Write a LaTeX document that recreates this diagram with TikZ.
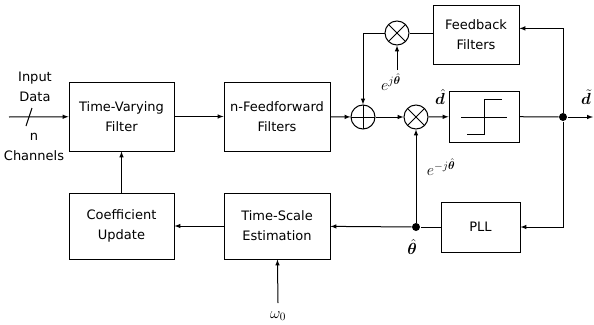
\RequirePackage{fix-cm}
\documentclass[tikz,border=0pt]{standalone}
\usepackage{amsmath}
\usepackage{bm}
\usepackage{fontspec}
\setmainfont{DejaVu Sans}
\usepackage{tikz}

\tikzset{
  bloc/.style={draw, line width=1pt, align=center, inner sep=0pt},
  rond/.style={circle, draw, line width=1pt, minimum size=24pt, inner sep=0pt},
  somme/.style={rond, path picture={
      \draw[line width=1pt] (path picture bounding box.north) -- (path picture bounding box.south);
      \draw[line width=1pt] (path picture bounding box.west) -- (path picture bounding box.east);}},
  produit/.style={rond, path picture={
      \draw[line width=1pt] (path picture bounding box.north west) -- (path picture bounding box.south east);
      \draw[line width=1pt] (path picture bounding box.north east) -- (path picture bounding box.south west);}},
  point/.style={circle, fill, minimum size=8pt, inner sep=0pt},
  texte/.style={inner sep=0pt, align=center},
  maths/.style={inner sep=0pt, font=\fontsize{16}{18}\selectfont}
}

\begin{document}
\begin{tikzpicture}[x=1pt, y=-1pt, >=latex, line width=1pt,
    font=\fontsize{13}{20}\selectfont]
      \useasboundingbox (0,0) rectangle (594,324);

      %Entrée
      \coordinate (Entree) at (9,117);
      \node[texte] (InputData) at (35,87) {Input\\Data};
      \node[texte] (Canaux) at (34,147) {n\\Channels};

      %Blocs du haut
      \node[bloc, minimum width=105pt, minimum height=69pt] (TVF) at (121.5,116.5) {Time-Varying\\Filter};
      \node[bloc, minimum width=106pt, minimum height=69pt] (FF) at (277,116.5) {n-Feedforward\\Filters};
      \node[bloc, minimum width=86pt, minimum height=59pt] (FB) at (476,34.5) {Feedback\\Filters};
      \node[bloc, minimum width=70pt, minimum height=51pt] (Decision) at (484,116.5) {};

      %Sommateur et multiplieurs
      \node[somme] (Somme) at (363,117) {};
      \node[produit] (Mult1) at (397,33) {};
      \node[produit] (Mult2) at (416,117) {};

      %Points
      \node[point] (Sortie) at (563,117) {};
      \node[point] (Theta) at (416,227) {};
      \coordinate (Fin) at (593,117);
      \coordinate (EjTheta) at (397,70);
      \coordinate (Omega) at (278,303);

      %Blocs du bas
      \node[bloc, minimum width=105pt, minimum height=66pt] (CU) at (121.5,226) {Coefficient\\Update};
      \node[bloc, minimum width=106pt, minimum height=66pt] (TSE) at (277,226) {Time-Scale\\Estimation};
      \node[bloc, minimum width=79pt, minimum height=50pt] (PLL) at (480.5,227) {PLL};

      %Étiquettes
      \node[maths] (LabDhat) at (440,97) {$\bm{\hat{d}}$};
      \node[maths] (LabDtilde) at (586,97) {$\bm{\tilde{d}}$};
      \node[maths] (LabEj) at (391,82) {$e^{j\bm{\hat{\theta}}}$};
      \node[maths] (LabEmj) at (441,167) {$e^{-j\bm{\hat{\theta}}}$};
      \node[maths] (LabTheta) at (412,247) {$\bm{\hat{\theta}}$};
      \node[maths] (LabOmega) at (278,316) {$\omega_0$};

      %Symbole de décision
      \draw (461,117) -- (507,117);
      \draw (467,134) -- (484,134) -- (484,99) -- (502,99);

      %Flèches
      \draw[->] (Entree) -- (TVF);
      \draw (26,126) -- (32,108);
      \draw[->] (TVF) -- (FF);
      \draw[->] (FF) -- (Somme);
      \draw[->] (Somme) -- (Mult2);
      \draw[->] (Mult2) -- (Decision);
      \draw (Decision) -- (Sortie);
      \draw[->] (Sortie) -- (Fin);

      \draw[->] (Sortie) |- (FB.8);
      \draw (FB.west |- Mult1) -- (Mult1);
      \draw[->] (Mult1) -| (Somme);
      \draw[->] (EjTheta) -- (Mult1);

      \draw[->] (Sortie) |- (PLL);
      \draw (PLL) -- (Theta);
      \draw[->] (Theta) -- (Mult2);
      \draw[->] (Theta) -- (TSE);
      \draw[->] (TSE) -- (CU);
      \draw[->] (CU) -- (TVF);
      \draw[->] (Omega) -- (TSE);
\end{tikzpicture}
\end{document}
